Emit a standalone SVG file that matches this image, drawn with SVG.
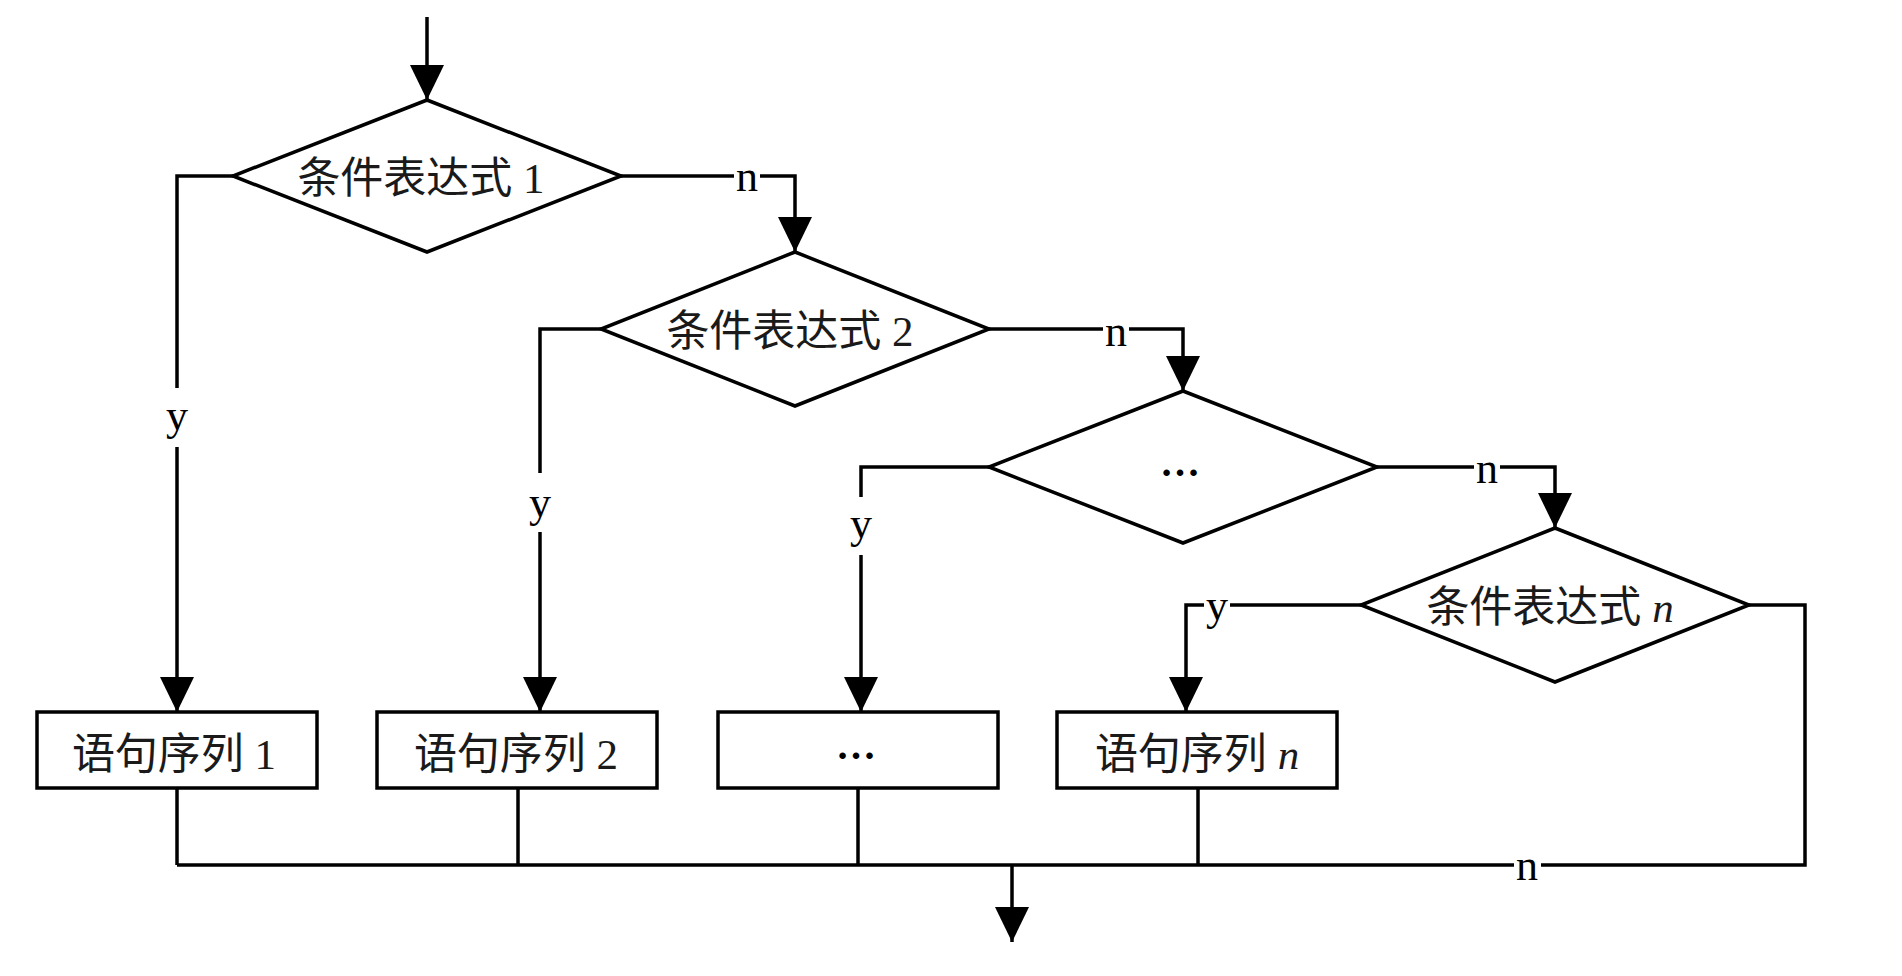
<svg xmlns="http://www.w3.org/2000/svg" width="1902" height="976" viewBox="0 0 1902 976">
<style>
.shape{fill:#fff;stroke:#000;stroke-width:3.5;stroke-linejoin:miter}
.conn{fill:none;stroke:#000;stroke-width:3.5}
.t{font-family:"Liberation Serif","Noto Sans CJK SC",serif;font-size:43px;fill:#1a1a1a;text-anchor:middle}
.dots{font-family:"Liberation Serif",serif;font-size:40px;font-weight:bold;fill:#000;text-anchor:middle}
.lbl{font-family:"Liberation Serif","Noto Sans CJK SC",serif;font-size:44px;fill:#000;text-anchor:middle}
.it{font-style:italic}
</style>
<defs>
<marker id="arr" viewBox="0 0 35 34" refX="35" refY="17" markerWidth="35" markerHeight="34" markerUnits="userSpaceOnUse" orient="auto">
<path d="M0,0 L35,17 L0,34 Z" fill="#000"/>
</marker>
</defs>
<rect width="1902" height="976" fill="#fff"/>
<g id="connectors">
<path class="conn" d="M427,17 V100" marker-end="url(#arr)"/>
<path class="conn" d="M233,176 H177 V388"/>
<path class="conn" d="M177,447 V712" marker-end="url(#arr)"/>
<path class="conn" d="M621,176 H734"/>
<path class="conn" d="M760,176 H795 V252" marker-end="url(#arr)"/>
<path class="conn" d="M601,329 H540 V473"/>
<path class="conn" d="M540,532 V712" marker-end="url(#arr)"/>
<path class="conn" d="M989,329 H1103"/>
<path class="conn" d="M1129,329 H1183 V391" marker-end="url(#arr)"/>
<path class="conn" d="M989,467 H861 V497"/>
<path class="conn" d="M861,555 V712" marker-end="url(#arr)"/>
<path class="conn" d="M1377,467 H1474"/>
<path class="conn" d="M1500,467 H1555 V528" marker-end="url(#arr)"/>
<path class="conn" d="M1361,605 H1230"/>
<path class="conn" d="M1204,605 H1186 V712" marker-end="url(#arr)"/>
<path class="conn" d="M1749,605 H1805 V865 H1541"/>
<path class="conn" d="M1514,865 H177"/>
<path class="conn" d="M177,788 V865 M518,788 V865 M858,788 V865 M1198,788 V865"/>
<path class="conn" d="M1012,865 V942" marker-end="url(#arr)"/>
<text class="lbl" x="177" y="430">y</text>
<text class="lbl" x="747" y="191">n</text>
<text class="lbl" x="540" y="517">y</text>
<text class="lbl" x="1116" y="346">n</text>
<text class="lbl" x="861" y="538">y</text>
<text class="lbl" x="1487" y="483">n</text>
<text class="lbl" x="1217" y="620">y</text>
<text class="lbl" x="1527" y="880">n</text>
</g>
<g id="cond1">
<polygon class="shape" points="427,100 621,176 427,252 233,176"/>
<text class="t" x="421" y="193">条件表达式 1</text>
</g>
<g id="cond2">
<polygon class="shape" points="795,252 989,329 795,406 601,329"/>
<text class="t" x="790" y="346">条件表达式 2</text>
</g>
<g id="cond3">
<polygon class="shape" points="1183,391 1377,467 1183,543 989,467"/>
<text class="dots" x="1180" y="476">…</text>
</g>
<g id="condn">
<polygon class="shape" points="1555,528 1749,605 1555,682 1361,605"/>
<text class="t" x="1550" y="622">条件表达式 <tspan class="it">n</tspan></text>
</g>
<g id="seq1">
<rect class="shape" x="37" y="712" width="280" height="76"/>
<text class="t" x="174" y="769">语句序列 1</text>
</g>
<g id="seq2">
<rect class="shape" x="377" y="712" width="280" height="76"/>
<text class="t" x="516" y="769">语句序列 2</text>
</g>
<g id="seq3">
<rect class="shape" x="718" y="712" width="280" height="76"/>
<text class="dots" x="856" y="759">…</text>
</g>
<g id="seqn">
<rect class="shape" x="1057" y="712" width="280" height="76"/>
<text class="t" x="1197" y="769">语句序列 <tspan class="it">n</tspan></text>
</g>
</svg>
